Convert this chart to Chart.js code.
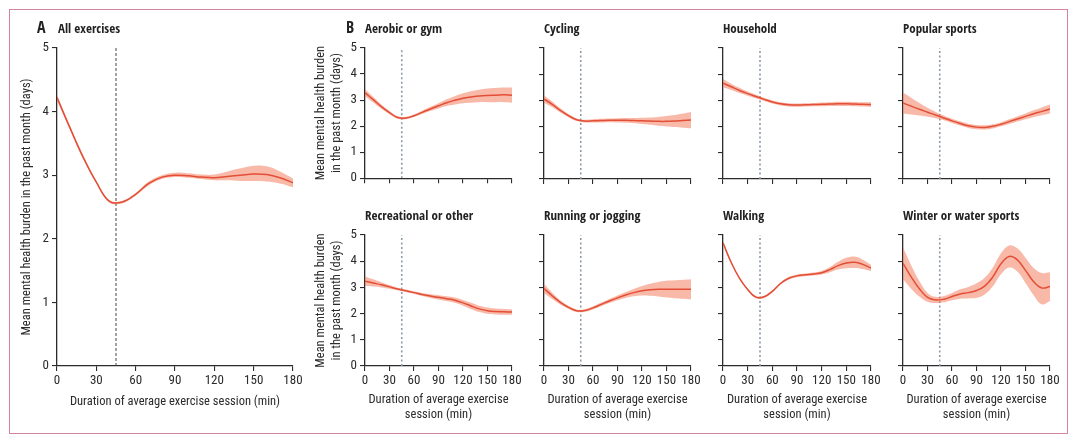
<!DOCTYPE html>
<html>
<head>
<meta charset="utf-8">
<script src="https://cdn.jsdelivr.net/npm/chart.js@4.4.0/dist/chart.umd.min.js"></script>
<style>
  body { margin: 0; background: #fff; width: 1080px; height: 444px; position: relative; overflow: hidden; }
  .frame { position: absolute; left: 9px; top: 9px; width: 1059px; height: 425px; border: 1.5px solid #d4859c; box-sizing: border-box; }
  .box { position: absolute; }
  .hd { position: absolute; font-family: "Open Sans Condensed", "Roboto Condensed", sans-serif; font-weight: bold; font-size: 13px; line-height: 16px; color: #222; white-space: nowrap; }
</style>
</head>
<body>
<div class="frame"></div>
<script>
// ---- DADOS ----
var durations = [0, 10, 20, 30, 40, 50, 60, 70, 80, 90, 100, 110, 120, 130, 140, 150, 160, 170, 180];
var xTicks = [0, 30, 60, 90, 120, 150, 180];
var yTicks = [0, 1, 2, 3, 4, 5];
var cutoff = 45;

var allMean = [4.22, 3.74, 3.28, 2.89, 2.59, 2.58, 2.70, 2.87, 2.97, 3.00, 2.99, 2.97, 2.96, 2.98, 3.00, 3.02, 3.01, 2.96, 2.88];
var allLo   = [4.18, 3.71, 3.25, 2.87, 2.57, 2.56, 2.68, 2.84, 2.94, 2.97, 2.96, 2.94, 2.92, 2.92, 2.91, 2.91, 2.90, 2.87, 2.81];
var allHi   = [4.26, 3.77, 3.31, 2.91, 2.61, 2.60, 2.72, 2.90, 3.00, 3.04, 3.03, 3.01, 3.01, 3.06, 3.11, 3.15, 3.14, 3.06, 2.95];

var aerobicMean = [3.28, 3.02, 2.75, 2.52, 2.33, 2.31, 2.40, 2.53, 2.66, 2.78, 2.90, 2.99, 3.07, 3.12, 3.16, 3.18, 3.19, 3.20, 3.19];
var aerobicLo   = [3.14, 2.91, 2.67, 2.46, 2.28, 2.26, 2.35, 2.47, 2.58, 2.68, 2.77, 2.83, 2.88, 2.90, 2.92, 2.92, 2.92, 2.92, 2.90];
var aerobicHi   = [3.42, 3.13, 2.83, 2.58, 2.38, 2.36, 2.45, 2.59, 2.74, 2.88, 3.03, 3.15, 3.26, 3.34, 3.40, 3.44, 3.46, 3.48, 3.48];

var cyclingMean = [3.05, 2.85, 2.62, 2.42, 2.26, 2.21, 2.22, 2.23, 2.24, 2.24, 2.24, 2.23, 2.22, 2.21, 2.20, 2.20, 2.21, 2.23, 2.25];
var cyclingLo   = [2.91, 2.74, 2.54, 2.36, 2.21, 2.16, 2.16, 2.16, 2.17, 2.16, 2.15, 2.13, 2.10, 2.07, 2.03, 2.00, 1.98, 1.96, 1.94];
var cyclingHi   = [3.19, 2.96, 2.70, 2.48, 2.31, 2.26, 2.28, 2.30, 2.31, 2.32, 2.33, 2.33, 2.34, 2.35, 2.37, 2.40, 2.44, 2.50, 2.56];

var householdMean = [3.66, 3.52, 3.38, 3.26, 3.15, 3.04, 2.94, 2.87, 2.83, 2.82, 2.83, 2.84, 2.85, 2.86, 2.87, 2.87, 2.86, 2.85, 2.84];
var householdLo   = [3.50, 3.40, 3.28, 3.18, 3.08, 2.98, 2.88, 2.81, 2.77, 2.76, 2.77, 2.78, 2.78, 2.79, 2.79, 2.79, 2.78, 2.77, 2.75];
var householdHi   = [3.82, 3.64, 3.48, 3.34, 3.22, 3.10, 3.00, 2.93, 2.89, 2.88, 2.89, 2.90, 2.92, 2.93, 2.95, 2.95, 2.94, 2.93, 2.93];

var popularMean = [2.90, 2.78, 2.66, 2.55, 2.44, 2.33, 2.22, 2.12, 2.03, 1.98, 1.97, 2.01, 2.09, 2.19, 2.29, 2.39, 2.49, 2.58, 2.67];
var popularLo   = [2.50, 2.46, 2.42, 2.38, 2.32, 2.24, 2.14, 2.04, 1.95, 1.90, 1.89, 1.93, 2.01, 2.10, 2.19, 2.28, 2.36, 2.43, 2.50];
var popularHi   = [3.30, 3.10, 2.90, 2.72, 2.56, 2.42, 2.30, 2.20, 2.11, 2.06, 2.05, 2.09, 2.17, 2.28, 2.39, 2.50, 2.62, 2.73, 2.84];

var recreationalMean = [3.24, 3.17, 3.10, 3.02, 2.94, 2.87, 2.80, 2.73, 2.67, 2.62, 2.57, 2.51, 2.41, 2.29, 2.18, 2.11, 2.08, 2.07, 2.06];
var recreationalLo   = [3.06, 3.03, 3.00, 2.95, 2.89, 2.82, 2.75, 2.67, 2.60, 2.54, 2.48, 2.41, 2.30, 2.17, 2.06, 1.99, 1.97, 1.96, 1.96];
var recreationalHi   = [3.42, 3.31, 3.20, 3.09, 2.99, 2.92, 2.85, 2.79, 2.74, 2.70, 2.66, 2.61, 2.52, 2.41, 2.30, 2.23, 2.19, 2.18, 2.16];

var runningMean = [2.96, 2.68, 2.43, 2.24, 2.11, 2.12, 2.22, 2.35, 2.48, 2.60, 2.71, 2.80, 2.87, 2.91, 2.93, 2.93, 2.93, 2.93, 2.93];
var runningLo   = [2.79, 2.56, 2.35, 2.18, 2.06, 2.07, 2.16, 2.28, 2.40, 2.51, 2.60, 2.66, 2.69, 2.68, 2.65, 2.61, 2.59, 2.57, 2.55];
var runningHi   = [3.13, 2.80, 2.51, 2.30, 2.16, 2.17, 2.28, 2.42, 2.56, 2.69, 2.82, 2.94, 3.05, 3.14, 3.21, 3.25, 3.27, 3.29, 3.31];

var walkingMean = [4.70, 3.95, 3.35, 2.92, 2.63, 2.64, 2.85, 3.15, 3.35, 3.44, 3.48, 3.51, 3.56, 3.68, 3.83, 3.93, 3.96, 3.88, 3.74];
var walkingLo   = [4.65, 3.91, 3.31, 2.88, 2.59, 2.60, 2.81, 3.11, 3.30, 3.39, 3.43, 3.45, 3.49, 3.58, 3.68, 3.73, 3.74, 3.70, 3.62];
var walkingHi   = [4.75, 3.99, 3.39, 2.96, 2.67, 2.68, 2.89, 3.19, 3.40, 3.49, 3.53, 3.57, 3.63, 3.78, 3.98, 4.13, 4.18, 4.06, 3.86];

var winterMean = [3.92, 3.40, 2.95, 2.62, 2.52, 2.55, 2.65, 2.75, 2.80, 2.88, 3.05, 3.40, 3.90, 4.18, 4.05, 3.65, 3.22, 2.98, 3.03];
var winterLo   = [3.32, 2.95, 2.65, 2.45, 2.40, 2.43, 2.51, 2.57, 2.58, 2.60, 2.73, 3.04, 3.50, 3.76, 3.61, 3.17, 2.70, 2.35, 2.48];
var winterHi   = [4.52, 3.85, 3.25, 2.79, 2.64, 2.67, 2.79, 2.93, 3.02, 3.16, 3.37, 3.76, 4.30, 4.60, 4.49, 4.13, 3.74, 3.55, 3.58];

var yTitleA = 'Mean mental health burden in the past month (days)';
var yTitleB = ['Mean mental health burden', 'in the past month (days)'];
var xTitleA = 'Duration of average exercise session (min)';
var xTitleB = ['Duration of average exercise', 'session (min)'];

// ---- ESTILO ----
var FONT = '"Roboto Condensed", sans-serif';
var INK = '#2b2b2b';
var LINE = '#e24e36';
var BAND = 'rgba(244,128,96,0.55)';

// painel: nome, séries e caixa (canvas + eixos)
var panels = [
  { name: 'All exercises', mean: allMean, lo: allLo, hi: allHi, big: true,
    left: 12, top: 28, w: 296, h: 384, padR: 15, yw: 45, xh: 46, yTitle: yTitleA, xTitle: xTitleA, yLabels: true, xLabels: true },
  { name: 'Aerobic or gym', mean: aerobicMean, lo: aerobicLo, hi: aerobicHi,
    left: 310, top: 28, w: 210, h: 161, padR: 8, yw: 55, xh: 10, yTitle: yTitleB, yLabels: true },
  { name: 'Cycling', mean: cyclingMean, lo: cyclingLo, hi: cyclingHi,
    left: 534, top: 28, w: 165, h: 161, padR: 8, yw: 10, xh: 10 },
  { name: 'Household', mean: householdMean, lo: householdLo, hi: householdHi,
    left: 713, top: 28, w: 166, h: 161, padR: 8, yw: 10, xh: 10 },
  { name: 'Popular sports', mean: popularMean, lo: popularLo, hi: popularHi,
    left: 893, top: 28, w: 165, h: 161, padR: 8, yw: 10, xh: 10 },
  { name: 'Recreational or other', mean: recreationalMean, lo: recreationalLo, hi: recreationalHi,
    left: 310, top: 215, w: 214, h: 210, padR: 12, yw: 55, xh: 59, yTitle: yTitleB, xTitle: xTitleB, yLabels: true, xLabels: true },
  { name: 'Running or jogging', mean: runningMean, lo: runningLo, hi: runningHi,
    left: 534, top: 215, w: 169, h: 210, padR: 12, yw: 10, xh: 59, xTitle: xTitleB, xLabels: true },
  { name: 'Walking', mean: walkingMean, lo: walkingLo, hi: walkingHi,
    left: 713, top: 215, w: 170, h: 210, padR: 12, yw: 10, xh: 59, xTitle: xTitleB, xLabels: true },
  { name: 'Winter or water sports', mean: winterMean, lo: winterLo, hi: winterHi,
    left: 893, top: 215, w: 169, h: 210, padR: 12, yw: 10, xh: 59, xTitle: xTitleB, xLabels: true }
];

function pts(arr) {
  return durations.map(function(d, i) { return { x: d, y: arr[i] }; });
}

function heading(text, left, top, size) {
  var d = document.createElement('div');
  d.className = 'hd';
  d.style.left = left + 'px';
  d.style.top = top + 'px';
  if (size) d.style.fontSize = size + 'px';
  d.textContent = text;
  document.body.appendChild(d);
}

function makeChart(p) {
  var wrap = document.createElement('div');
  wrap.className = 'box';
  wrap.style.left = p.left + 'px';
  wrap.style.top = p.top + 'px';
  wrap.style.width = p.w + 'px';
  wrap.style.height = p.h + 'px';
  var cv = document.createElement('canvas');
  wrap.appendChild(cv);
  document.body.appendChild(wrap);

  var tickFont = { family: FONT, size: 13 };
  var titleFont = { family: FONT, size: 12.5, lineHeight: 1.25 };

  new Chart(cv, {
    type: 'line',
    data: {
      datasets: [
        { data: pts(p.mean), borderColor: LINE, borderWidth: 1.5, pointRadius: 0, fill: false },
        { data: pts(p.lo), borderColor: 'transparent', borderWidth: 0, pointRadius: 0, fill: '+1', backgroundColor: BAND },
        { data: pts(p.hi), borderColor: 'transparent', borderWidth: 0, pointRadius: 0, fill: false },
        { data: [{ x: cutoff, y: 0 }, { x: cutoff, y: 5 }], pointRadius: 0, fill: false, tension: 0,
          borderColor: p.big ? '#444' : '#8c9aa6', borderWidth: p.big ? 1 : 1.6, borderDash: p.big ? [3, 2] : [2, 2.5] }
      ]
    },
    options: {
      responsive: true,
      maintainAspectRatio: false,
      animation: false,
      events: [],
      layout: { padding: { top: 20, right: p.padR, left: 0, bottom: 0 } },
      elements: { line: { tension: 0.4 } },
      plugins: { legend: { display: false }, tooltip: { enabled: false } },
      scales: {
        x: {
          type: 'linear', min: 0, max: 180,
          afterBuildTicks: function(s) { s.ticks = xTicks.map(function(v) { return { value: v }; }); },
          ticks: { display: !!p.xLabels, font: tickFont, color: INK, padding: 2, maxRotation: 0, autoSkip: false },
          grid: { drawOnChartArea: false, tickLength: 5, color: INK, lineWidth: 1.1 },
          border: { color: INK, width: 1.3 },
          title: { display: !!p.xTitle, text: p.xTitle, font: titleFont, color: INK, padding: { top: 0, bottom: 2 } },
          afterFit: function(s) { s.height = p.xh; }
        },
        y: {
          min: 0, max: 5,
          afterBuildTicks: function(s) { s.ticks = yTicks.map(function(v) { return { value: v }; }); },
          ticks: { display: !!p.yLabels, font: tickFont, color: INK, padding: 3 },
          grid: { drawOnChartArea: false, tickLength: 5, color: INK, lineWidth: 1.1 },
          border: { color: INK, width: 1.3 },
          title: { display: !!p.yTitle, text: p.yTitle, font: titleFont, color: INK, padding: { top: p.big ? 7 : 3, bottom: 0 } },
          afterFit: function(s) { s.width = p.yw; }
        }
      }
    }
  });
}

panels.forEach(makeChart);

// títulos dos painéis
heading('A', 37, 19, 16);
heading('B', 346, 19, 16);
panels.forEach(function(p, i) {
  var left = i === 0 ? 58 : p.left + p.yw;
  var top = p.top < 100 ? 20 : 207;
  heading(p.name, left, top);
});
</script>
</body>
</html>
